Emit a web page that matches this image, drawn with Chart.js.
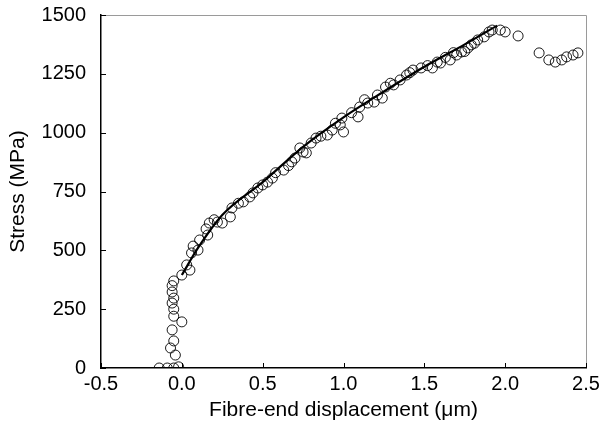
<!DOCTYPE html>
<html>
<head>
<meta charset="utf-8">
<script src="https://cdn.jsdelivr.net/npm/chart.js@4.4.1/dist/chart.umd.min.js"></script>
<style>
  html, body { margin: 0; padding: 0; background: #fff; }
  #wrap { width: 616px; height: 443px; }
</style>
</head>
<body>
<div id="wrap"><canvas id="chart" width="616" height="443"></canvas></div>
<script>
// measured points: fibre-end displacement (um) vs stress (MPa)
const dispX = [-0.14, -0.09, -0.05, -0.02, -0.04, -0.07, -0.05, -0.06, 0.00, -0.05,
  -0.05, -0.06, -0.05, -0.06, -0.06, -0.05, 0.00, 0.05, 0.03, 0.06,
  0.07, 0.10, 0.11, 0.15, 0.17, 0.16, 0.22, 0.25, 0.30, 0.31,
  0.38, 0.42, 0.44, 0.47, 0.50, 0.56, 0.63, 0.68, 0.70, 0.75,
  0.77, 0.73, 0.80, 0.83, 0.90, 0.93, 0.98, 1.00, 0.99, 1.09,
  1.10, 1.15, 1.19, 1.24, 1.26, 1.31, 1.35, 1.39, 1.43, 1.48,
  1.55, 1.60, 1.66, 1.70, 1.73, 1.77, 1.79, 1.83, 1.87, 1.90,
  1.92, 1.97, 2.00, 2.08, 2.21, 2.27, 2.31, 2.35, 2.38, 2.42, 2.45,
  0.20, 0.35, 0.53, 0.58, 0.66, 0.86, 0.95, 1.05, 1.13, 1.21,
  1.29, 1.41, 1.52, 1.58, 1.63, 1.68, 1.75, 1.81];
const stressY = [0, 0, 0, 5, 55, 85, 115, 162, 196, 220,
  250, 276, 297, 323, 350, 370, 395, 416, 438, 489,
  518, 501, 544, 591, 616, 565, 620, 616, 642, 680,
  706, 727, 744, 765, 778, 807, 841, 876, 892, 918,
  914, 935, 956, 977, 990, 1011, 1033, 1003, 1062, 1067,
  1109, 1126, 1130, 1147, 1194, 1203, 1224, 1245, 1266, 1275,
  1275, 1296, 1309, 1330, 1343, 1360, 1373, 1394, 1407, 1428,
  1436, 1436, 1428, 1411, 1339, 1309, 1300, 1309, 1322, 1330, 1339,
  630, 700, 790, 830, 860, 985, 1040, 1085, 1140, 1160,
  1210, 1255, 1285, 1300, 1320, 1340, 1345, 1380];

// fitted curve
const fitX = [0.0, 0.1, 0.25, 0.5, 0.75, 1.0, 1.25, 1.5, 1.75, 1.95];
const fitY = [395, 510, 650, 790, 940, 1065, 1175, 1280, 1375, 1455];

const xTicks = [-0.5, 0, 0.5, 1.0, 1.5, 2.0, 2.5];
const yTicks = [0, 250, 500, 750, 1000, 1250, 1500];

const FONT = "'Liberation Sans', Arial, sans-serif";

// inward tick marks and the grey frame on top/right
const frame = {
  id: 'frame',
  afterDraw(chart) {
    const { ctx, chartArea: a, scales } = chart;
    ctx.save();
    ctx.strokeStyle = '#9a9a9a';
    ctx.lineWidth = 1;
    ctx.beginPath();
    ctx.moveTo(a.left, a.top + 0.5);
    ctx.lineTo(a.right + 0.5, a.top + 0.5);
    ctx.lineTo(a.right + 0.5, a.bottom);
    ctx.stroke();
    ctx.strokeStyle = '#000';
    ctx.beginPath();
    yTicks.forEach(v => {
      const y = Math.round(scales.y.getPixelForValue(v)) + 0.5;
      ctx.moveTo(a.left, y);
      ctx.lineTo(a.left + 5, y);
    });
    xTicks.forEach(v => {
      const x = Math.round(scales.x.getPixelForValue(v)) + 0.5;
      ctx.moveTo(x, a.bottom);
      ctx.lineTo(x, a.bottom - 5);
    });
    ctx.stroke();
    ctx.restore();
  }
};

new Chart(document.getElementById('chart'), {
  type: 'scatter',
  data: {
    datasets: [
      {
        label: 'Fit',
        type: 'line',
        data: fitX.map((x, i) => ({ x: x, y: fitY[i] })),
        borderColor: '#000',
        borderWidth: 2.2,
        pointRadius: 0,
        fill: false,
        cubicInterpolationMode: 'monotone'
      },
      {
        label: 'Measured',
        data: dispX.map((x, i) => ({ x: x, y: stressY[i] })),
        pointRadius: 5,
        pointBorderWidth: 0.9,
        borderColor: '#000',
        backgroundColor: 'rgba(0,0,0,0)'
      }
    ]
  },
  options: {
    responsive: false,
    animation: false,
    layout: { padding: { left: 0, top: 15, right: 30, bottom: 0 } },
    plugins: { legend: { display: false }, tooltip: { enabled: false } },
    scales: {
      x: {
        type: 'linear',
        min: -0.5, max: 2.5,
        afterFit: s => { s.height = 75; s.paddingLeft = 0; s.paddingRight = 0; },
        afterBuildTicks: s => { s.ticks = xTicks.map(v => ({ value: v })); },
        grid: { display: false, drawTicks: false },
        border: { display: true, color: '#000', width: 1.5 },
        ticks: {
          padding: 4,
          color: '#000',
          font: { family: FONT, size: 20 },
          callback: v => v.toFixed(1)
        },
        title: {
          display: true,
          text: 'Fibre-end displacement (μm)',
          color: '#000',
          font: { family: FONT, size: 21 },
          padding: { top: 0, bottom: 20 }
        }
      },
      y: {
        min: 0, max: 1500,
        afterFit: s => { s.width = 101; s.paddingTop = 0; s.paddingBottom = 0; },
        afterBuildTicks: s => { s.ticks = yTicks.map(v => ({ value: v })); },
        grid: { display: false, drawTicks: false },
        border: { display: true, color: '#000', width: 1.5 },
        ticks: {
          padding: 15,
          color: '#000',
          font: { family: FONT, size: 20 },
          callback: v => String(v)
        },
        title: {
          display: true,
          text: 'Stress (MPa)',
          color: '#000',
          font: { family: FONT, size: 21 },
          padding: { top: 6, bottom: 0 }
        }
      }
    }
  },
  plugins: [frame]
});
</script>
</body>
</html>
